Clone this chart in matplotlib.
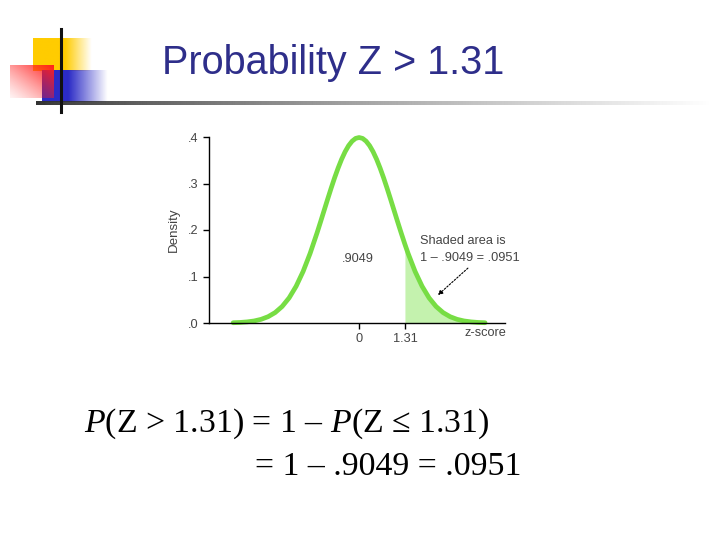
import numpy as np
import matplotlib
matplotlib.use('Agg')
import matplotlib.pyplot as plt

# standard normal density, read at fixed z values (right half, mirrored for left)
z_half = [0.0, 0.1, 0.2, 0.3, 0.4, 0.5, 0.6, 0.7, 0.8, 0.9, 1.0, 1.1, 1.2,
          1.31, 1.4, 1.6, 1.8, 2.0, 2.2, 2.4, 2.6, 2.8, 3.0, 3.2, 3.4, 3.6]
dens_half = [0.3989, 0.3970, 0.3910, 0.3814, 0.3683, 0.3521, 0.3332, 0.3123,
             0.2897, 0.2661, 0.2420, 0.2179, 0.1942, 0.1691, 0.1497, 0.1109,
             0.0790, 0.0540, 0.0355, 0.0224, 0.0136, 0.0079, 0.0044, 0.0024,
             0.0012, 0.0006]
z_cut = 1.31
y_ticks = [0.0, 0.1, 0.2, 0.3, 0.4]
y_tick_labels = ['.0', '.1', '.2', '.3', '.4']
x_ticks = [0, 1.31]
x_tick_labels = ['0', '1.31']

title = 'Probability Z > 1.31'
line1 = '$P$(Z > 1.31) = 1 \u2013 $P$(Z \u2264 1.31)'
line2 = '= 1 \u2013 .9049 = .0951'

# build full curve (left side mirrored, skipping the 1.31 point)
z_left = [-z for z in z_half[::-1] if z not in (0.0, z_cut)]
d_left = [d for z, d in zip(z_half[::-1], dens_half[::-1]) if z not in (0.0, z_cut)]
z_all = np.array(z_left + z_half)
d_all = np.array(d_left + dens_half)

plt.rcParams['font.family'] = ['Liberation Sans', 'DejaVu Sans']
plt.rcParams['mathtext.fontset'] = 'custom'
plt.rcParams['mathtext.it'] = 'Liberation Serif:italic'
plt.rcParams['mathtext.rm'] = 'Liberation Serif'

fig = plt.figure(figsize=(7.2, 5.4), dpi=100)

# ---------------- slide decoration (pixel coords) ----------------
bg = fig.add_axes([0, 0, 1, 1])
bg.set_xlim(0, 720)
bg.set_ylim(540, 0)
bg.axis('off')


def grad_block(x0, x1, y0, y1, rgb, alpha):
    img = np.zeros(alpha.shape + (4,))
    img[..., :3] = rgb
    img[..., 3] = alpha
    bg.imshow(img, extent=(x0, x1, y1, y0), interpolation='bilinear', zorder=1)


n = 100
u = np.linspace(0, 1, n)[None, :] * np.ones((n, 1))
v = np.linspace(0, 1, n)[:, None] * np.ones((1, n))

# yellow square
grad_block(33, 92, 38, 71, (1.0, 0.8, 0.0), np.clip((1 - u) / 0.45, 0, 1))
# blue square
grad_block(42, 108, 70, 102, (0.17, 0.17, 0.78), np.clip((1 - u) / 0.6, 0, 1))
# red square
grad_block(10, 54, 65, 98, (1.0, 0.12, 0.12), np.clip(0.1 + 0.9 * (u + (1 - v)) / 2, 0, 1) ** 1.3)
# underline bar
bar = np.clip(1 - u[:4, :] ** 0.8, 0, 1)
grad_block(36, 716, 101, 105, (0.2, 0.2, 0.2), bar)
# vertical black line
bg.plot([61, 61], [29, 112], color='#111111', lw=2.2, zorder=3)

bg.text(162, 63, title, fontsize=28.5, color='#2e2e8a', ha='left', va='center')
bg.text(84, 424, line1, fontsize=24.4, family='Liberation Serif', color='black',
        ha='left', va='center')
bg.text(255, 467, line2, fontsize=24.4, family='Liberation Serif', color='black',
        ha='left', va='center')

# ---------------- density chart ----------------
ax = fig.add_axes([209 / 720, 1 - 323 / 540, 296 / 720, 186 / 540])
ax.set_xlim(-4.29, 4.17)
ax.set_ylim(0, 0.4)
ax.patch.set_alpha(0)

mask = z_all >= z_cut
ax.fill_between(z_all[mask], 0, d_all[mask], color='#c4f2ae', lw=0, zorder=1)
ax.plot(z_all, d_all, color='#77dd44', lw=3.4, solid_capstyle='round',
        solid_joinstyle='round', clip_on=False, zorder=2)

for s in ['top', 'right']:
    ax.spines[s].set_visible(False)
for s in ['left', 'bottom']:
    ax.spines[s].set_linewidth(1.0)

fs = 9.2
ax.set_yticks(y_ticks)
ax.set_yticklabels(y_tick_labels)
ax.set_xticks(x_ticks)
ax.set_xticklabels(x_tick_labels)
ax.tick_params(direction='out', length=4.5, width=1, labelsize=fs,
               labelcolor='#444444', pad=3)
ax.set_ylabel('Density', fontsize=9.6, color='#444444')
ax.yaxis.set_label_coords(-0.098, 0.5)

ax.text(3.6, -0.022, 'z-score', fontsize=fs, color='#444444', ha='center',
        va='center', clip_on=False)
ax.text(-0.05, 0.138, '.9049', fontsize=fs, color='#444444', ha='center', va='center')
ax.text(1.74, 0.176, 'Shaded area is', fontsize=fs, color='#444444', ha='left', va='center')
ax.text(1.74, 0.140, '1 \u2013 .9049 = .0951', fontsize=fs, color='#444444',
        ha='left', va='center')
ax.annotate('', xy=(2.25, 0.060), xytext=(3.11, 0.118),
            arrowprops=dict(arrowstyle='-|>', linestyle=(0, (1.5, 1.5)), lw=0.8,
                            color='black', mutation_scale=7, shrinkA=0, shrinkB=0))

fig.savefig('out.png', dpi=100)
